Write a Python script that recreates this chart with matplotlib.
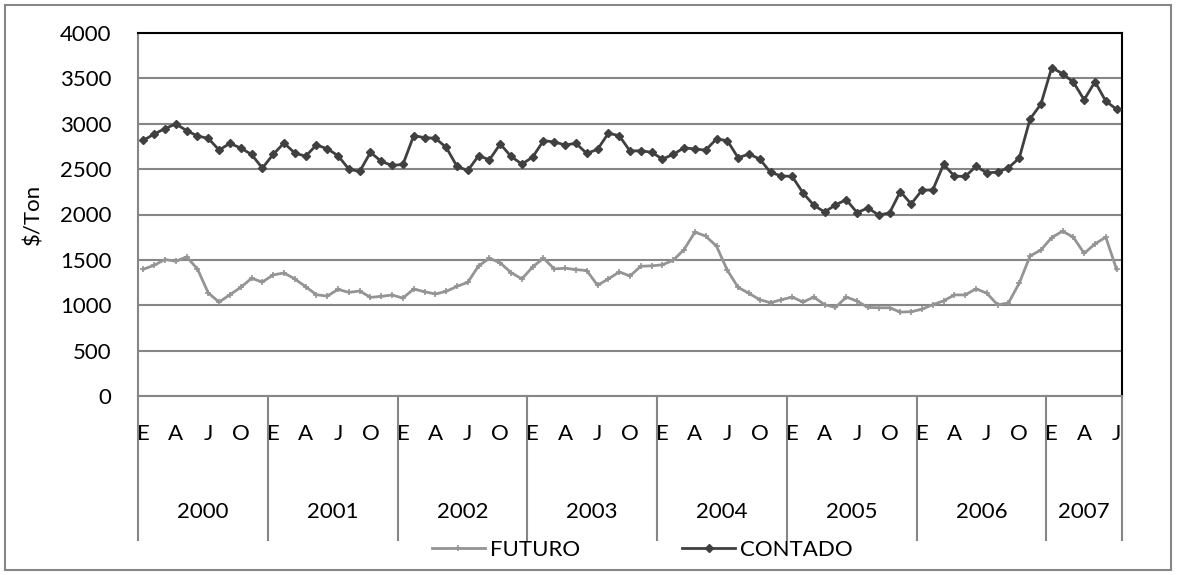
import matplotlib
matplotlib.use("Agg")
import matplotlib.pyplot as plt
from matplotlib.patches import Rectangle
import matplotlib.transforms as mtrans
import numpy as np

plt.rcParams['font.family'] = ['Lato', 'DejaVu Sans']

# monthly prices, Jan 2000 - Jul 2007
years = ['2000', '2001', '2002', '2003', '2004', '2005', '2006', '2007']
month_labels = ['E', 'A', 'J', 'O']

contado = [2817, 2887, 2947, 2998, 2924, 2865, 2839, 2710, 2784, 2732, 2662, 2511,
           2662, 2788, 2677, 2642, 2766, 2725, 2648, 2500, 2474, 2685, 2585, 2540,
           2552, 2869, 2847, 2840, 2740, 2530, 2485, 2648, 2603, 2777, 2640, 2555,
           2633, 2814, 2799, 2766, 2784, 2673, 2718, 2895, 2869, 2699, 2703, 2685,
           2611, 2662, 2736, 2721, 2710, 2832, 2814, 2625, 2666, 2611, 2463, 2426,
           2419, 2238, 2101, 2028, 2105, 2164, 2020, 2072, 1994, 2017, 2253, 2116,
           2268, 2271, 2552, 2423, 2419, 2530, 2459, 2467, 2515, 2622, 3053, 3216,
           3618, 3552, 3459, 3264, 3463, 3249, 3160]

futuro = [1397, 1441, 1504, 1485, 1533, 1400, 1135, 1035, 1116, 1197, 1297, 1256,
          1334, 1356, 1290, 1205, 1116, 1101, 1175, 1142, 1157, 1087, 1098, 1113,
          1079, 1179, 1149, 1124, 1153, 1208, 1253, 1434, 1518, 1467, 1360, 1290,
          1423, 1518, 1400, 1408, 1393, 1382, 1220, 1290, 1367, 1323, 1430, 1434,
          1446, 1496, 1614, 1806, 1762, 1651, 1386, 1197, 1131, 1061, 1028, 1061,
          1090, 1035, 1090, 1006, 976, 1090, 1046, 976, 972, 972, 925, 929,
          956, 1007, 1048, 1114, 1114, 1181, 1133, 1004, 1026, 1244, 1543, 1609,
          1746, 1816, 1750, 1572, 1676, 1750, 1395]

n = len(contado)
x = np.arange(n)
fs = 16

fig = plt.figure(figsize=(11.78, 5.75), dpi=100)
ax = fig.add_axes([138/1178, 1 - 396/575, (1122 - 138)/1178, 363/575])

fut_line, = ax.plot(x, futuro, color='#949494', lw=2.0, marker='+', ms=5, mew=1.2,
                    label='FUTURO', zorder=3)
con_line, = ax.plot(x, contado, color='#404040', lw=2.0, marker='D', ms=4,
                    label='CONTADO', zorder=4)

ax.set_xlim(-0.5, n - 0.5)
ax.set_ylim(0, 4000)
ax.set_yticks(np.arange(0, 4001, 500))
ax.yaxis.grid(True, color='#868686', lw=1.5)
ax.set_axisbelow(True)
ax.tick_params(axis='y', length=0, labelsize=fs, pad=19)
ax.set_ylabel('$/Ton', fontsize=fs, labelpad=12)

ticks = list(range(0, n, 3))
ax.set_xticks(ticks)
ax.set_xticklabels([month_labels[(t % 12) // 3] for t in ticks], fontsize=fs)
ax.tick_params(axis='x', length=0, pad=20)

for s in ['top', 'right']:
    ax.spines[s].set_color('black')
    ax.spines[s].set_linewidth(1.5)
for s in ['left', 'bottom']:
    ax.spines[s].set_color('#868686')
    ax.spines[s].set_linewidth(1.5)

# two-level category axis: year separators and labels
tr = mtrans.blended_transform_factory(ax.transData, ax.transAxes)
bounds = [-0.5 + 12 * k for k in range(len(years))] + [n - 0.5]
for b in bounds:
    ax.plot([b, b], [0, -0.397], transform=tr, color='#868686', lw=1.5, clip_on=False)
for k, yr in enumerate(years):
    mid = (bounds[k] + bounds[k + 1]) / 2
    ax.text(mid, -0.32, yr, transform=tr, ha='center', va='center', fontsize=fs)

fig.legend(handles=[fut_line, con_line], loc='center', bbox_to_anchor=(0.545, 0.043),
           ncol=2, frameon=False, fontsize=fs, handlelength=2.4, columnspacing=4.6,
           handletextpad=0.2, borderpad=0)

fig.patches.append(Rectangle((5/1178, 5/575), 1166/1178, 565/575, transform=fig.transFigure,
                             fill=False, edgecolor='#868686', lw=1.5))

fig.savefig('out.png', dpi=100)
